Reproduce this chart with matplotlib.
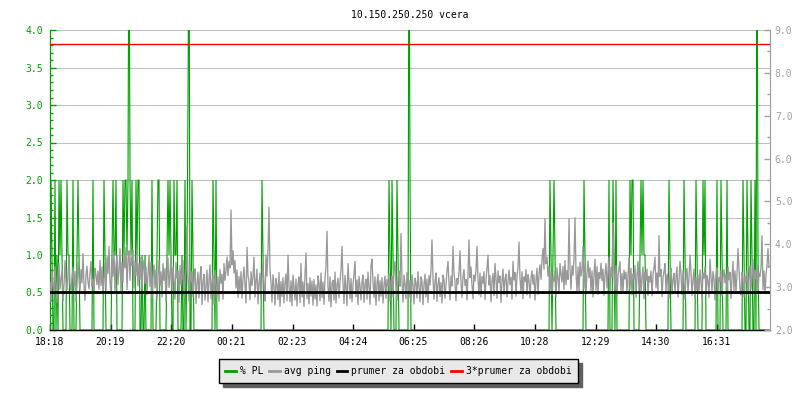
import numpy as np
import matplotlib
matplotlib.use("Agg")
import matplotlib.pyplot as plt
from matplotlib.ticker import MultipleLocator, FormatStrFormatter
from matplotlib.lines import Line2D

title = "10.150.250.250 vcera"
start_label = "18:18"
tick_labels = ["18:18", "20:19", "22:20", "00:21", "02:23", "04:24",
               "06:25", "08:26", "10:28", "12:29", "14:30", "16:31"]
series_names = ["% PL", "avg ping", "prumer za obdobi", "3*prumer za obdobi"]
step_min = 2

# avg ping (right axis), one value per 2 minutes
ping = [
 3.12,2.66,3.35,3.02,2.91,3.48,3.10,2.64,3.26,3.55,2.95,3.18,3.40,2.68,3.05,3.62,3.14,2.93,3.30,3.72,3.08,2.90,3.22,3.45,
 3.01,3.36,2.67,3.15,3.58,3.24,2.92,3.41,3.10,3.78,3.05,2.69,3.27,3.49,3.12,2.96,3.33,3.60,3.02,3.18,2.90,3.44,3.29,3.06,
 3.38,2.95,3.62,3.04,3.47,2.86,3.20,3.55,2.92,3.71,3.32,3.95,3.12,2.84,3.66,3.25,3.83,2.90,3.52,3.74,3.06,3.40,3.90,2.88,
 3.58,3.11,3.77,3.45,3.92,2.94,3.66,3.85,3.16,3.72,3.50,3.87,2.98,3.61,3.26,3.79,3.03,3.55,3.18,3.70,2.87,3.42,3.63,3.09,
 3.47,2.82,3.33,3.75,3.01,3.58,2.74,3.29,3.52,2.98,3.41,2.69,3.24,3.63,3.05,3.36,2.77,3.55,3.16,3.44,2.66,3.31,3.68,2.99,
 3.27,3.74,2.93,3.46,3.15,2.72,3.58,3.21,3.37,2.64,3.50,3.06,3.29,3.62,2.75,3.18,3.44,4.42,3.30,2.68,3.52,3.12,3.36,2.77,
 3.21,3.43,2.62,3.10,3.35,2.75,3.26,3.48,2.59,3.14,3.30,2.70,3.05,3.40,2.66,3.18,3.52,2.73,3.11,3.27,2.60,3.39,3.06,2.78,
 3.24,2.67,3.41,3.09,3.30,2.72,3.55,3.16,3.38,3.70,3.27,3.60,3.45,4.80,3.52,3.85,3.33,3.62,2.98,3.40,2.76,3.25,2.88,3.36,
 2.74,3.21,3.47,3.05,2.63,3.93,3.28,3.12,2.70,3.36,3.04,3.25,3.70,2.77,3.15,3.42,2.61,3.08,3.33,2.72,3.19,3.55,3.02,2.68,
 3.75,3.26,3.90,4.87,3.40,3.11,2.65,3.29,3.02,2.58,3.20,3.06,2.71,3.34,2.55,3.13,2.78,3.22,2.63,3.10,3.31,2.68,3.75,3.04,
 2.66,3.15,2.57,3.28,3.01,2.70,3.19,2.56,3.07,3.24,2.64,3.55,2.77,3.12,2.55,3.30,3.80,2.73,3.08,2.61,3.22,2.79,3.14,2.58,
 3.18,2.72,3.05,2.56,3.26,3.10,2.68,3.33,2.76,3.12,2.60,3.20,3.50,4.30,3.02,2.67,3.24,2.54,3.09,3.16,2.70,3.35,2.63,3.06,
 3.21,2.75,3.12,3.40,3.95,3.08,2.62,3.27,3.01,2.57,3.55,3.14,2.73,3.20,2.66,3.05,3.31,3.60,2.78,3.17,2.59,3.25,3.03,2.70,
 3.11,3.28,2.64,3.06,3.19,2.72,3.35,3.02,2.60,3.50,3.65,3.13,2.76,3.24,2.58,3.09,3.30,2.68,3.15,2.79,3.22,2.63,3.07,3.26,
 2.74,3.18,3.03,3.32,2.67,3.12,3.25,2.78,3.41,3.60,3.06,2.70,3.20,3.37,3.02,4.25,3.15,2.65,3.28,3.08,2.73,3.34,3.11,2.76,
 3.16,2.68,3.29,3.04,2.61,3.21,3.10,2.75,3.36,3.02,2.66,3.24,3.13,2.59,3.08,3.30,2.77,3.19,2.64,3.27,3.05,3.40,4.10,3.20,
 2.72,3.14,3.33,2.67,3.06,3.22,2.78,3.11,2.63,3.28,3.17,2.74,3.05,3.38,3.60,3.09,2.70,3.26,3.03,3.95,3.31,3.12,2.68,3.20,
 3.07,3.35,3.85,3.12,2.76,3.24,3.41,3.04,3.18,2.70,3.30,4.10,3.22,3.47,3.06,2.73,3.28,3.14,3.40,3.95,3.19,2.82,3.33,2.77,
 3.25,3.09,3.36,2.71,3.18,3.44,3.75,3.05,3.27,2.66,3.14,3.32,2.80,3.55,3.21,2.74,3.38,3.11,3.26,2.64,3.15,3.42,2.83,3.19,
 3.30,2.77,3.12,3.40,3.06,3.23,2.72,3.60,3.17,3.34,2.79,3.28,3.45,4.05,3.20,2.88,3.36,2.73,3.24,3.13,3.41,2.82,3.29,3.15,
 2.75,3.22,3.38,3.07,3.29,2.70,3.16,3.44,2.83,3.31,3.52,3.18,3.66,3.90,3.42,4.60,3.55,3.70,3.26,3.48,2.90,3.36,2.82,3.24,
 3.14,3.37,2.78,3.45,3.21,2.88,3.55,3.30,3.12,3.48,2.95,3.62,3.06,3.39,3.18,4.60,3.43,2.95,3.50,3.28,3.66,4.62,3.35,2.90,
 3.47,2.89,3.58,3.26,3.40,3.95,2.97,3.52,2.84,3.33,3.61,3.22,3.45,2.88,3.38,2.77,3.29,3.65,2.92,3.48,2.83,3.34,3.20,3.56,
 3.15,3.42,2.81,3.30,3.55,2.98,3.36,3.70,2.89,3.46,3.24,4.50,3.38,2.92,3.50,2.79,3.27,3.43,3.60,2.91,3.32,2.85,3.40,3.19,
 3.35,2.87,3.26,3.70,2.94,3.44,2.82,3.31,3.19,3.50,2.76,3.28,3.60,2.90,3.39,2.85,3.23,3.47,2.73,3.34,3.16,3.42,2.81,3.25,
 3.12,3.38,2.80,3.29,3.45,3.70,2.98,3.33,2.87,4.20,3.25,3.41,2.78,3.22,3.36,3.55,2.89,3.30,3.15,2.74,3.27,3.44,2.84,3.19,
 3.32,2.86,3.24,3.47,2.77,3.15,3.60,3.28,2.83,3.39,3.12,2.72,3.26,3.44,2.88,3.20,3.75,3.35,2.81,3.18,3.42,2.75,3.23,2.91,
 3.29,2.85,3.40,3.16,2.73,3.33,3.21,3.48,2.82,3.27,3.14,2.76,3.65,3.24,2.88,3.37,3.19,2.70,3.31,3.45,2.86,3.22,3.13,3.38,
 2.79,3.25,3.41,3.10,3.30,2.84,3.46,3.17,3.35,2.74,3.23,3.60,2.92,3.38,2.87,3.28,3.90,3.44,2.95,2.82,3.34,3.20,2.77,3.26,
 3.11,3.36,2.82,3.24,3.48,2.95,3.30,3.65,2.88,3.40,3.19,3.52,2.86,3.33,3.25,3.45,4.20,2.94,3.38,2.85,3.29,3.50,3.90,3.46,
]

# packet loss (left axis): sample index -> value (all other samples are 0)
pl_idx = [1, 2, 5, 7, 9, 10, 11, 12, 17, 18, 19, 23, 27, 28, 29, 43,
          54, 55, 62, 63, 64, 65, 66,
          73, 74, 75, 76, 77, 78, 79, 80, 81, 82, 86, 87, 88, 89, 92, 95,
          102, 107, 108, 109, 117, 118, 119, 120, 121, 124, 125, 126, 127,
          132, 135, 137, 138, 139, 142, 143, 163, 164, 166, 212, 213,
          339, 340, 342, 343, 347, 348, 359, 360,
          500, 501, 503, 504, 505, 534, 535, 559, 563, 564, 566,
          580, 581, 582, 583, 590, 591, 592, 593, 594, 595, 619, 620,
          634, 635, 646, 647, 653, 654, 655, 667, 671, 672, 677,
          693, 694, 697, 698, 701, 702, 705, 707, 708]
pl_val = [2, 1, 2, 1, 2, 1, 2, 1, 2, 1, 1, 2, 1, 2, 1, 2,
          2, 1, 1, 2, 1, 1, 2,
          2, 1, 2, 2, 1, 2, 6, 2, 1, 2, 2, 1, 2, 2, 1, 1,
          2, 1, 2, 2, 1, 2, 1, 2, 1, 2, 1, 1, 2,
          1, 2, 1, 3, 6, 2, 1, 2, 1, 2, 2, 1,
          2, 1, 2, 1, 2, 1, 6, 2,
          2, 1, 1, 2, 1, 2, 1, 2, 2, 1, 2,
          2, 1, 2, 2, 1, 2, 1, 2, 1, 1, 2, 1,
          2, 1, 2, 1, 2, 1, 2, 2, 2, 1, 2,
          2, 1, 2, 1, 2, 1, 2, 6, 1]

mean_ping = 2.89

GREEN = "#00a000"
AXGRAY = "#a0a0a0"
PINGC = "#999999"
RED = "#ff0000"

plt.rcParams["font.family"] = ["DejaVu Sans Mono", "DejaVu Sans"]

fig = plt.figure(figsize=(8, 4), dpi=100)
ax = fig.add_axes([50 / 800, 70 / 400, 720 / 800, 300 / 400])
ax2 = ax.twinx()

n = len(ping)
x = np.arange(n) * step_min
pl = np.zeros(n)
pl[np.array(pl_idx)] = pl_val

ax.plot(x, pl, color=GREEN, lw=0.8, zorder=2, solid_joinstyle="miter")
ax2.plot(x, ping, color=PINGC, lw=0.95, zorder=2)
ax2.axhline(mean_ping, color="black", lw=2.0, zorder=3)
ax2.axhline(3 * mean_ping, color=RED, lw=1.0, zorder=3)

ax.set_xlim(0, 1440)
ax.set_ylim(0, 4)
ax2.set_ylim(2, 9)


def minutes(lbl):
    h, m = lbl.split(":")
    h0, m0 = start_label.split(":")
    return ((int(h) * 60 + int(m)) - (int(h0) * 60 + int(m0))) % 1440


ax.set_xticks([minutes(t) for t in tick_labels])
ax.set_xticklabels(tick_labels)
ax.tick_params(axis="x", direction="in", length=4, width=1, color="black",
               labelsize=7, pad=5, labelcolor="black")

ax.yaxis.set_major_locator(MultipleLocator(0.5))
ax.yaxis.set_minor_locator(MultipleLocator(0.1))
ax.yaxis.set_major_formatter(FormatStrFormatter("%.1f"))
ax.tick_params(axis="y", which="major", direction="in", length=4, width=1,
               color=GREEN, labelcolor=GREEN, labelsize=7, pad=5)
ax.tick_params(axis="y", which="minor", direction="in", length=2.5, width=1,
               color=GREEN)
ax.grid(axis="y", which="major", color="#c0c0c0", lw=0.75)
ax.set_axisbelow(True)

ax2.yaxis.set_major_locator(MultipleLocator(1.0))
ax2.yaxis.set_minor_locator(MultipleLocator(0.5))
ax2.yaxis.set_major_formatter(FormatStrFormatter("%.1f"))
ax2.tick_params(axis="y", which="major", direction="in", length=4, width=1,
                color=AXGRAY, labelcolor=AXGRAY, labelsize=7, pad=3.5)
ax2.tick_params(axis="y", which="minor", direction="in", length=2.5, width=1,
                color=AXGRAY)

for a in (ax, ax2):
    a.spines["top"].set_visible(False)
ax.spines["right"].set_visible(False)
ax.spines["left"].set_color(GREEN)
ax.spines["left"].set_linewidth(0.9)
ax.spines["bottom"].set_color("black")
ax.spines["bottom"].set_linewidth(1.0)
ax2.spines["left"].set_visible(False)
ax2.spines["bottom"].set_visible(False)
ax2.spines["right"].set_color(AXGRAY)
ax2.spines["right"].set_linewidth(0.9)

ax.set_title(title, fontsize=7, pad=9)

handles = [Line2D([], [], color=c, lw=2) for c in (GREEN, PINGC, "black", RED)]
leg = fig.legend(handles, series_names, loc="center",
                 bbox_to_anchor=(0.498, 0.0725), ncol=4, frameon=True,
                 fancybox=False,
                 shadow={"ox": 3, "oy": -3, "color": "#606060", "alpha": 1},
                 handlelength=1.1, handletextpad=0.4, columnspacing=0.6,
                 borderpad=0.7, fontsize=7, edgecolor="black",
                 facecolor="#e8e8e8", framealpha=1)
leg.get_frame().set_linewidth(1.0)

fig.savefig("out.png", dpi=100)
